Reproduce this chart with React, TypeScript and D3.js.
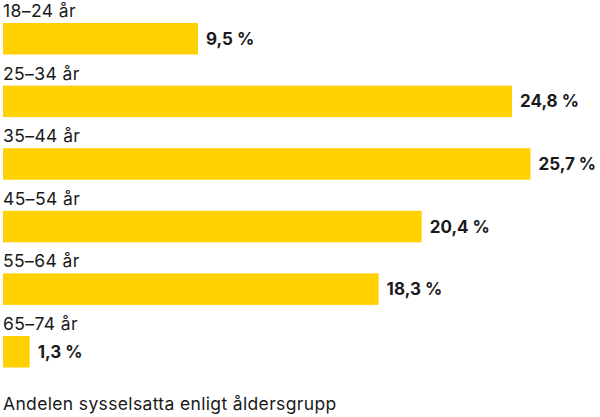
import React from "react";
import * as d3 from "d3";

const categories = ["18–24 år", "25–34 år", "35–44 år", "45–54 år", "55–64 år", "65–74 år"];
const values = [9.5, 24.8, 25.7, 20.4, 18.3, 1.3];
const caption = "Andelen sysselsatta enligt åldersgrupp";

export default function App() {
  const W = 600, H = 417;
  const step = 62.6;
  const barH = 31.5;
  const x = d3.scaleLinear().domain([0, 25.7]).range([3, 530.5]);
  const y = d3.scalePoint<string>().domain(categories).range([23, 23 + step * (categories.length - 1)]);
  const font = "Inter, 'Open Sans', sans-serif";
  const fmt = (v: number) => v.toFixed(1).replace(".", ",") + " %";
  return (
    <svg width={W} height={H} style={{ position: "absolute", left: 0, top: 0, display: "block" }} fontFamily={font}>
      <rect width={W} height={H} fill="#fff" />
      {categories.map((c, i) => {
        const top = y(c) as number;
        return (
          <g key={c}>
            <text x={3} y={top - 6} fontSize={17.5} letterSpacing={0.4} fill="#1a1a1a">{c}</text>
            <rect x={x(0)} y={top} width={x(values[i]) - x(0)} height={barH} fill="#FFD100" />
            <text x={x(values[i]) + 8} y={top + barH / 2 + 6} fontSize={17} fontWeight={700} fill="#1a1a1a">{fmt(values[i])}</text>
          </g>
        );
      })}
      <text x={3} y={410} fontSize={17.5} letterSpacing={0.35} fill="#1a1a1a">{caption}</text>
    </svg>
  );
}
